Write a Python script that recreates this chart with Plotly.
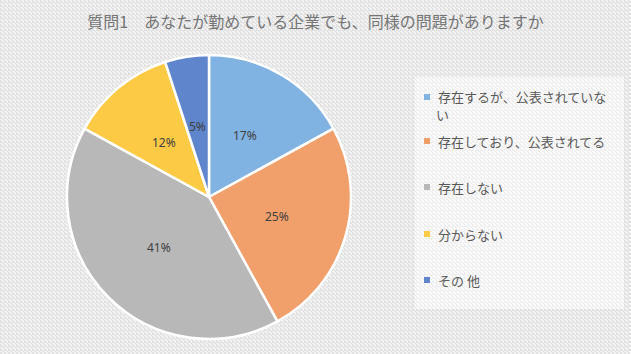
import base64
import math
import plotly.graph_objects as go

labels = ["存在するが、公表されていない", "存在しており、公表されてる", "存在しない", "分からない", "その 他"]
legend_lines = [["存在するが、公表されていな", "い"], ["存在しており、公表されてる"], ["存在しない"], ["分からない"], ["その 他"]]
values = [17, 25, 41, 12, 5]
colors = ["#80b2e2", "#f1a06c", "#b8b8b8", "#fdca45", "#5f85cc"]
title = "質問1　あなたが勤めている企業でも、同様の問題がありますか"

W, H = 631, 354

svg = f'''<svg xmlns="http://www.w3.org/2000/svg" width="{W}" height="{H}">
<defs><pattern id="p" width="4" height="4" patternUnits="userSpaceOnUse">
<rect width="4" height="4" fill="#f6f6f6"/>
<path d="M-1,1 l2,2 M0,0 l4,4 M3,-1 l2,2" stroke="#dcdcdc" stroke-width="1.1"/>
</pattern>
<pattern id="q" width="4" height="4" patternUnits="userSpaceOnUse">
<rect width="4" height="4" fill="#fdfdfd"/>
<path d="M-1,1 l2,2 M0,0 l4,4 M3,-1 l2,2" stroke="#ececec" stroke-width="1.1"/>
</pattern></defs>
<rect width="{W}" height="{H}" fill="url(#p)"/>
<rect x="415" y="77" width="209" height="232" fill="url(#q)"/>
</svg>'''
src = "data:image/svg+xml;base64," + base64.b64encode(svg.encode()).decode()

# pie placement (pixels)
cx, cy, R = 209, 197, 142

fig = go.Figure()
fig.add_trace(go.Pie(
    labels=labels, values=values, sort=False, direction="clockwise", rotation=0,
    marker=dict(colors=colors, line=dict(color="white", width=2.5)),
    textinfo="none",
    domain=dict(x=[(cx - R) / W, (cx + R) / W], y=[1 - (cy + R) / H, 1 - (cy - R) / H]),
    showlegend=False, hoverinfo="label+percent",
))

# data labels at half radius, at each slice's mid-angle (derived from values)
total = sum(values)
cum = 0
for v in values:
    mid = (cum + v / 2) / total * 2 * math.pi
    cum += v
    px = cx + 0.5 * R * math.sin(mid)
    py = cy - 0.5 * R * math.cos(mid)
    fig.add_annotation(xref="paper", yref="paper", x=px / W, y=1 - py / H,
                       xanchor="center", yanchor="middle", showarrow=False,
                       text=f"{round(v / total * 100)}%",
                       font=dict(family="Noto Sans, Noto Sans CJK JP", size=12, color="#404040"))

# legend (custom, evenly spaced like the original)
ys = [97, 141, 187, 234, 280]
for lines, col, y in zip(legend_lines, colors, ys):
    fig.add_shape(type="rect", xref="paper", yref="paper",
                  x0=424 / W, x1=430 / W, y0=1 - (y + 3) / H, y1=1 - (y - 3) / H,
                  fillcolor=col, line=dict(width=0))
    for i, line in enumerate(lines):
        fig.add_annotation(xref="paper", yref="paper", x=(436 if i == 0 else 434) / W,
                           y=1 - (y + 17 * i) / H,
                           xanchor="left", yanchor="middle", align="left", showarrow=False,
                           text=line, font=dict(family="Noto Sans CJK JP", size=13, color="#595959"))

fig.update_layout(
    width=W, height=H, margin=dict(l=0, r=0, t=0, b=0),
    paper_bgcolor="#efefef", plot_bgcolor="rgba(0,0,0,0)",
    title=dict(text=title, x=0.5, xanchor="center", y=1 - 22 / H, yanchor="middle",
               font=dict(family="Noto Sans CJK JP", size=16, color="#757575")),
    images=[dict(source=src, xref="paper", yref="paper", x=0, y=1, sizex=1, sizey=1,
                 sizing="stretch", layer="below", xanchor="left", yanchor="top")],
)

fig.write_html("out.html")
